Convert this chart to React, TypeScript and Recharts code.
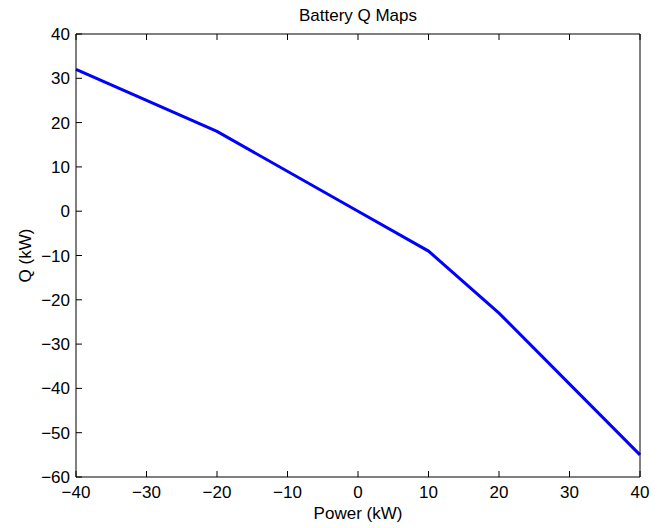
import React from 'react';
import { LineChart, Line, XAxis, YAxis } from 'recharts';

const powerKw = [-40, -20, 0, 10, 20, 40];
const qKw = [32, 18, 0, -9, -23, -55];
const xTicks = [-40, -30, -20, -10, 0, 10, 20, 30, 40];
const yTicks = [-60, -50, -40, -30, -20, -10, 0, 10, 20, 30, 40];

const data = powerKw.map((p, i) => ({ power: p, q: qKw[i] }));

const FONT = '"Liberation Sans", Arial, Helvetica, sans-serif';
const FS = 17;
const TICK_LEN = 6;

const fmt = (v: number) => (v < 0 ? `\u2212${Math.abs(v)}` : `${v}`);

function BottomTick(props: any) {
  const { x, y, payload } = props;
  return (
    <g>
      <line x1={x} y1={y} x2={x} y2={y - TICK_LEN} stroke="#000" />
      <text x={x} y={y + 21} textAnchor="middle" fontSize={FS} fontFamily={FONT} fill="#000">
        {fmt(payload.value)}
      </text>
    </g>
  );
}

function LeftTick(props: any) {
  const { x, y, payload } = props;
  return (
    <g>
      <line x1={x} y1={y} x2={x + TICK_LEN} y2={y} stroke="#000" />
      <text x={x - 6} y={y + 6} textAnchor="end" fontSize={FS} fontFamily={FONT} fill="#000">
        {fmt(payload.value)}
      </text>
    </g>
  );
}

function TopTick(props: any) {
  const { x, y } = props;
  return <line x1={x} y1={y} x2={x} y2={y + TICK_LEN} stroke="#000" />;
}

function RightTick(props: any) {
  const { x, y } = props;
  return <line x1={x} y1={y} x2={x - TICK_LEN} y2={y} stroke="#000" />;
}

function YLabel(props: any) {
  const { viewBox } = props;
  const cx = 25;
  const cy = viewBox.y + viewBox.height / 2;
  return (
    <text
      x={cx}
      y={cy}
      transform={`rotate(-90, ${cx}, ${cy})`}
      textAnchor="middle"
      dominantBaseline="central"
      fontSize={FS}
      fontFamily={FONT}
      fill="#000"
    >
      Q (kW)
    </text>
  );
}

export default function App() {
  return (
    <div style={{ position: 'absolute', left: 0, top: 0, background: '#fff' }}>
      <LineChart width={662} height={528} data={data} margin={{ top: 33, right: 21, bottom: 0, left: 0 }}>
        <XAxis
          xAxisId="bottom"
          dataKey="power"
          type="number"
          domain={[-40, 40]}
          ticks={xTicks}
          height={51}
          tickSize={0}
          tickMargin={0}
          tickLine={false}
          axisLine={{ stroke: '#000' }}
          tick={<BottomTick />}
          interval={0}
          label={{ value: 'Power (kW)', position: 'insideBottom', offset: 9, fontSize: FS, fontFamily: FONT, fill: '#000' }}
        />
        <XAxis
          xAxisId="top"
          orientation="top"
          dataKey="power"
          type="number"
          domain={[-40, 40]}
          ticks={xTicks}
          height={1}
          tickSize={0}
          tickMargin={0}
          tickLine={false}
          axisLine={{ stroke: '#000' }}
          tick={<TopTick />}
          interval={0}
          label={{ value: 'Battery Q Maps', position: 'top', offset: 12, fontSize: FS, fontFamily: FONT, fill: '#000' }}
        />
        <YAxis
          yAxisId="left"
          type="number"
          domain={[-60, 40]}
          ticks={yTicks}
          width={76}
          tickSize={0}
          tickMargin={0}
          tickLine={false}
          axisLine={{ stroke: '#000' }}
          tick={<LeftTick />}
          interval={0}
          label={<YLabel />}
        />
        <YAxis
          yAxisId="right"
          orientation="right"
          type="number"
          domain={[-60, 40]}
          ticks={yTicks}
          width={1}
          tickSize={0}
          tickMargin={0}
          tickLine={false}
          axisLine={{ stroke: '#000' }}
          tick={<RightTick />}
          interval={0}
        />
        <Line
          xAxisId="bottom"
          yAxisId="left"
          type="linear"
          dataKey="q"
          stroke="#0000ff"
          strokeWidth={3}
          dot={false}
          isAnimationActive={false}
        />
      </LineChart>
    </div>
  );
}
